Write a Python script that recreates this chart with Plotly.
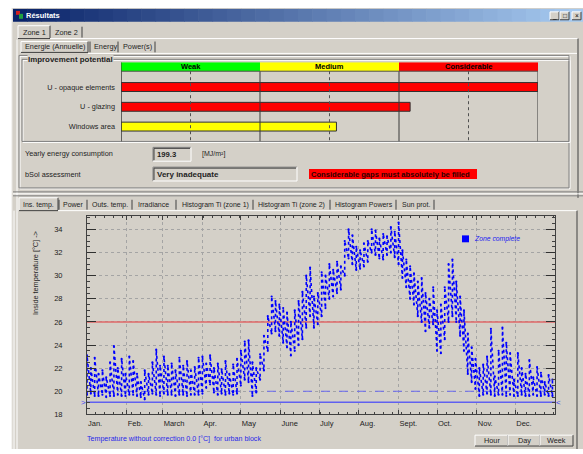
import plotly.graph_objects as go

W, H = 583, 454
BG = "#D4D0C8"
DARK = "#808080"
DARKER = "#404040"
WHITE = "#FFFFFF"
FONT = "Liberation Sans"
TXT = "#1E1E1E"

# ---------------- data ----------------
levels = ["Weak", "Medium", "Considerable"]
level_colors = ["#00FF00", "#FFFF00", "#FF0000"]
criteria = ["U - opaque elements", "U - glazing", "Windows area"]
criteria_score = [3.0, 2.08, 1.55]          # 0-1 weak, 1-2 medium, 2-3 considerable
criteria_colors = ["#FF0000", "#FF0000", "#FFFF00"]
yearly_energy = 199.3
energy_unit = "[MJ/m²]"
assessment = "Very inadequate"
assessment_msg = "Considerable gaps must absolutely be filled"

months = ["Jan.", "Feb.", "March", "Apr.", "May", "June", "July", "Aug.",
          "Sept.", "Oct.", "Nov.", "Dec."]
month_start = [0, 31, 59, 90, 120, 151, 181, 212, 243, 273, 304, 334]
y_ticks = [18, 20, 22, 24, 26, 28, 30, 32, 34]

sample_day = list(range(0, 364, 3))
t_low = [
    19.7, 19.8, 19.6, 19.6, 19.7, 19.5, 19.6, 19.6, 19.7, 19.6, 19.6,
    19.7, 19.7, 19.6, 19.5, 19.3, 19.7, 19.8, 19.7, 19.6,
    19.8, 19.7, 19.7, 19.6, 19.7, 19.7, 19.6, 19.7, 19.7, 19.7,
    19.8, 20.3, 20.6, 19.9, 19.7, 19.8, 19.7, 19.8, 19.7, 19.8,
    20.5, 21.0, 20.8, 19.6, 19.9, 21.0, 21.8, 23.5, 25.0, 25.2, 24.8,
    24.2, 23.8, 23.1, 23.5, 24.0, 24.5, 25.5, 26.5, 25.5, 25.8,
    26.5, 27.2, 28.0, 28.2, 28.5, 28.8, 30.0, 31.5, 31.0, 30.5,
    30.6, 30.8, 31.2, 32.0, 31.8, 31.5, 31.4, 31.8, 32.0, 31.6,
    31.0, 29.8, 29.0, 28.0, 27.5, 26.5, 26.0, 25.2, 25.5, 25.8,
    23.5, 23.3, 24.5, 26.0, 26.5, 26.0, 24.8, 23.5, 21.5, 20.8, 20.2,
    19.6, 19.7, 19.8, 19.7, 19.6, 19.7, 19.7, 19.6, 19.7, 19.6,
    19.6, 19.7, 19.6, 19.6, 19.7, 19.6, 19.6, 19.7, 19.6, 19.6,
]
t_high = [
    23.1, 22.0, 22.9, 21.5, 21.8, 21.2, 22.5, 23.9, 22.0, 22.8, 21.5,
    23.0, 22.6, 21.5, 20.8, 21.8, 21.5, 22.5, 23.6, 22.2,
    23.0, 22.2, 22.4, 21.8, 22.9, 22.2, 22.6, 21.8, 22.1, 22.9,
    23.0, 22.4, 23.1, 22.0, 22.4, 21.9, 22.6, 21.5, 22.3, 22.8,
    23.5, 24.3, 24.4, 22.5, 22.0, 23.2, 24.8, 26.5, 28.2, 27.8, 27.5,
    27.2, 26.8, 26.0, 27.0, 27.8, 28.6, 30.0, 30.7, 28.2, 28.5,
    30.3, 30.0, 31.0, 30.5, 31.2, 30.8, 33.0, 34.0, 33.5, 32.5,
    32.2, 32.8, 33.0, 34.0, 33.9, 33.2, 33.6, 33.4, 34.2, 33.8,
    34.6, 32.2, 31.4, 30.8, 30.2, 29.5, 29.8, 28.5, 28.0, 29.0,
    27.0, 27.5, 29.0, 31.0, 31.4, 29.5, 28.2, 27.0, 25.0, 23.8, 22.8,
    22.0, 22.3, 23.0, 25.4, 21.3, 23.5, 25.5, 24.2, 23.3, 21.0,
    23.3, 22.0, 21.5, 22.7, 21.2, 22.1, 21.6, 20.8, 21.4, 21.0,
]
t_limit_low = 19.05
t_setpoint = 20.0
t_overheat = 26.0
year_days = 365

# ---------------- helpers (UI chrome in pixels) ----------------
shapes, ann = [], []


def X(px):
    return px / W


def Y(py):
    return 1 - py / H


def line(x0, y0, x1, y1, color, width=1, dash=None, layer="below"):
    shapes.append(dict(type="line", xref="paper", yref="paper",
                       x0=X(x0), y0=Y(y0), x1=X(x1), y1=Y(y1),
                       line=dict(color=color, width=width, dash=dash), layer=layer))


def rect(x0, y0, x1, y1, fill, color=None, width=0, layer="below"):
    shapes.append(dict(type="rect", xref="paper", yref="paper",
                       x0=X(x0), y0=Y(y1), x1=X(x1), y1=Y(y0),
                       fillcolor=fill, line=dict(color=color or fill, width=width), layer=layer))


def raised(x0, y0, x1, y1, fill=BG):
    rect(x0, y0, x1, y1, fill)
    line(x0, y0, x1, y0, WHITE)
    line(x0, y0, x0, y1, WHITE)
    line(x0, y1, x1, y1, DARKER)
    line(x1, y0, x1, y1, DARKER)


def sunken(x0, y0, x1, y1, fill=BG):
    rect(x0, y0, x1, y1, fill)
    line(x0, y0, x1, y0, DARK)
    line(x0, y0, x0, y1, DARK)
    line(x0 + 1, y0 + 1, x1 - 1, y0 + 1, DARKER)
    line(x0 + 1, y0 + 1, x0 + 1, y1 - 1, DARKER)
    line(x0, y1, x1, y1, WHITE)
    line(x1, y0, x1, y1, WHITE)


def etched(x0, y0, x1, y1):
    shapes.append(dict(type="rect", xref="paper", yref="paper",
                       x0=X(x0 + 1), y0=Y(y1 + 1), x1=X(x1 + 1), y1=Y(y0 + 1),
                       line=dict(color=WHITE, width=1), layer="below"))
    shapes.append(dict(type="rect", xref="paper", yref="paper",
                       x0=X(x0), y0=Y(y1), x1=X(x1), y1=Y(y0),
                       line=dict(color=DARK, width=1), layer="below"))


def txt(x, y, s, size=7.3, color=TXT, anchor="left", bold=False, italic=False,
        angle=0, bg=None):
    ann.append(dict(xref="paper", yref="paper", x=X(x), y=Y(y),
                    text=("<b>%s</b>" % s) if bold else s, showarrow=False,
                    xanchor=anchor, yanchor="middle", textangle=angle,
                    bgcolor=bg, borderpad=0,
                    font=dict(family=FONT, size=size, color=color,
                              style="italic" if italic else "normal")))


# window background
rect(12, 8, 583, 454, BG)
line(12, 8, 12, 454, "#E8E6E2")

# title bar gradient
n = 40
c0, c1 = (10, 36, 106), (166, 202, 240)
for i in range(n):
    f = i / (n - 1)
    col = "rgb(%d,%d,%d)" % tuple(int(a + (b - a) * f) for a, b in zip(c0, c1))
    rect(13 + i * 570 / n, 9, 13 + (i + 1) * 570 / n + 0.6, 22, col)
rect(16, 11, 20, 15, "#D02020")
rect(19, 14, 23, 19, "#20A040")
txt(25, 15.5, "Résultats", size=7.5, color=WHITE, bold=True)
for bx, glyph in [(550, "_"), (560, "□"), (572, "×")]:
    raised(bx, 12, bx + 9, 20)
    txt(bx + 4.5, 16, glyph, size=6.5, color="black", anchor="center")

# Zone tabs
raised(18, 26, 50, 39)
txt(22, 33, "Zone 1")
txt(54, 33, "Zone 2")
line(82, 27, 82, 38, DARKER)
line(50, 39, 578, 39, WHITE)
line(17, 40, 17, 454, WHITE)
line(578, 39, 578, 200, DARKER)

# Energy tabs
raised(21, 42, 88, 53)
txt(24, 47.5, "Energie (Annuelle)")
line(90, 42, 90, 53, DARKER)
txt(93, 47.5, "Energy")
line(118, 42, 118, 53, DARKER)
txt(122, 47.5, "Power(s)")
line(155, 42, 155, 53, DARKER)
line(88, 54, 577, 54, WHITE)

# frames
etched(19, 56, 569, 190)
etched(22, 60, 569, 143)
txt(27, 60.5, "Improvement potential", size=7.9, bold=True, bg=BG)

# energy consumption / assessment
txt(24, 155, "Yearly energy consumption")
sunken(153, 149, 191, 163)
txt(156, 156, "%.1f" % yearly_energy, size=7.7, bold=True)
txt(201, 156, energy_unit, size=7)
txt(24, 176, "bSol assessment")
sunken(153, 169, 297, 183)
txt(156, 176, assessment, size=8, bold=True)
rect(309, 171, 477, 181, "#FF0000")
txt(310, 176, assessment_msg, size=7.6, bold=True, color="#300000")

# splitter
line(13, 194, 583, 194, DARK)
line(13, 196, 583, 196, WHITE)
line(13, 198, 583, 198, DARK)

# bottom tabs
raised(19, 200, 58, 213)
txt(22, 207, "Ins. temp.", size=7)
tab_items = [(62, "Power", 87), (91, "Outs. temp.", 132), (137, "Irradiance", 176),
             (181, "Histogram Ti (zone 1)", 253), (257, "Histogram Ti (zone 2)", 330),
             (334, "Histogram Powers", 396), (401, "Sun prot.", 434)]
line(59, 202, 59, 212, DARKER)
for tx, label, sep in tab_items:
    txt(tx, 207, label, size=7)
    line(sep, 202, sep, 212, DARKER)
line(58, 213, 577, 213, WHITE)
line(14, 213, 14, 454, WHITE)
line(577, 213, 577, 454, DARKER)

# axis labels / legend / caption
txt(36, 276, "Inside temperature [°C] -&gt;", size=7.3, angle=-90, anchor="center")
rect(462, 238, 469, 245, "#0000FF")
txt(473, 241.5, "Zone complete", size=6.8, color="#2020F0", italic=True)
txt(86, 444, "Temperature without correction 0.0 [°C]&nbsp; for urban block",
    size=7.1, color="#2828E8")
txt(83, 407, "&gt;", size=8, color="#4040F0", anchor="center")
txt(558, 407, "&lt;", size=8, color="#4040F0", anchor="center")

# buttons
for bx0, bx1, lab in [(475, 508, "Hour"), (508, 540, "Day"), (540, 573, "Week")]:
    raised(bx0, 440, bx1, 451)
    txt((bx0 + bx1) / 2, 445.5, lab, size=7.3, anchor="center")

# ---------------- top chart (improvement potential) ----------------
HEADER_Y, ROW_Y = 67.5, [88, 108, 128]
fig = go.Figure()
fig.add_trace(go.Bar(y=[HEADER_Y] * len(levels), x=[1] * len(levels),
                     base=list(range(len(levels))), orientation="h", width=9,
                     marker=dict(color=level_colors, line=dict(width=0)),
                     xaxis="x2", yaxis="y2", hoverinfo="skip"))
fig.add_trace(go.Bar(y=ROW_Y, x=criteria_score, base=0, orientation="h", width=9,
                     marker=dict(color=criteria_colors, line=dict(color="#303030", width=1)),
                     xaxis="x2", yaxis="y2"))
for i, lev in enumerate(levels):
    ann.append(dict(xref="x2", yref="y2", x=i + 0.5, y=HEADER_Y, text="<b>%s</b>" % lev,
                    showarrow=False, font=dict(family=FONT, size=7.5, color="black")))
for k in range(7):
    v = k * 0.5
    shapes.append(dict(type="line", xref="x2", yref="y2", x0=v, x1=v, y0=72, y1=143,
                       line=dict(color="#383838" if k % 2 == 0 else "#505050", width=1,
                                 dash=None if k % 2 == 0 else "dot"), layer="above"))
shapes.append(dict(type="line", xref="x2", yref="y2", x0=0, x1=3, y0=72, y1=72,
                   line=dict(color="#505050", width=1), layer="above"))
shapes.append(dict(type="line", xref="x2", yref="y2", x0=0, x1=0, y0=63, y1=143,
                   line=dict(color="#383838", width=1), layer="above"))

# ---------------- bottom chart (inside temperature) ----------------
# daily swing: low -> high for each sample, chained in time order
xs, ys = [], []
for d, lo, hi in zip(sample_day, t_low, t_high):
    xs += [d, d]
    ys += [lo, hi]
fig.add_trace(go.Scatter(x=[0, year_days], y=[t_overheat] * 2, mode="lines",
                         line=dict(color="#E06868", width=1.5), hoverinfo="skip"))
fig.add_trace(go.Scatter(x=[0, year_days], y=[t_setpoint] * 2, mode="lines",
                         line=dict(color="#6A6AF0", width=1.2, dash="dash"), hoverinfo="skip"))
fig.add_trace(go.Scatter(x=[0, year_days], y=[t_limit_low] * 2, mode="lines",
                         line=dict(color="#6060F0", width=1.6), hoverinfo="skip"))
fig.add_trace(go.Scatter(x=xs, y=ys, mode="lines+markers", name="Zone complete",
                         line=dict(color="#0000FF", width=1.6, dash="dot"),
                         marker=dict(size=2.2, color="#0000FF")))

tickfont = dict(family=FONT, size=7.5, color="#222222")
fig.update_layout(
    width=W, height=H, autosize=False, margin=dict(l=0, r=0, t=0, b=0),
    paper_bgcolor="white", plot_bgcolor=BG, showlegend=False,
    font=dict(family=FONT), barmode="overlay",
    xaxis=dict(domain=[X(87), X(555)], range=[0, year_days], anchor="y",
               tickmode="array", tickvals=month_start, ticktext=months,
               ticks="inside", ticklen=4, tickcolor=DARKER,
               showline=True, linecolor=DARKER, linewidth=1, mirror="ticks",
               showgrid=True, gridcolor="#A4A4A4", griddash="dot", gridwidth=1,
               zeroline=False, tickfont=tickfont, ticklabelposition="outside right",
               ticklabelstandoff=2,
               minor=dict(tickmode="linear", tick0=0, dtick=7, ticks="inside",
                          ticklen=2.5, tickcolor=DARKER, showgrid=False)),
    yaxis=dict(domain=[Y(419), Y(218)], range=[18, 35.2], anchor="x",
               tickmode="array", tickvals=y_ticks,
               ticks="inside", ticklen=9, tickcolor="#303030",
               showline=True, linecolor=DARKER, linewidth=1, mirror="ticks",
               showgrid=True, gridcolor="#A4A4A4", griddash="dot", gridwidth=1,
               zeroline=False, tickfont=tickfont, ticklabelstandoff=22,
               minor=dict(tickmode="linear", tick0=18, dtick=0.5, ticks="inside",
                          ticklen=3, tickcolor=DARKER, showgrid=False)),
    xaxis2=dict(domain=[X(121), X(538)], range=[0, 3], anchor="y2", visible=False),
    yaxis2=dict(domain=[Y(143), Y(63)], range=[143, 63], anchor="x2",
                tickmode="array", tickvals=ROW_Y, ticktext=criteria, ticks="",
                showline=False, showgrid=False, zeroline=False,
                tickfont=dict(family=FONT, size=7.3, color=TXT), ticklabelstandoff=5),
    shapes=shapes, annotations=ann,
)

fig.write_html("out.html", config={"displayModeBar": False},
               post_script="document.body.style.margin='0';")
